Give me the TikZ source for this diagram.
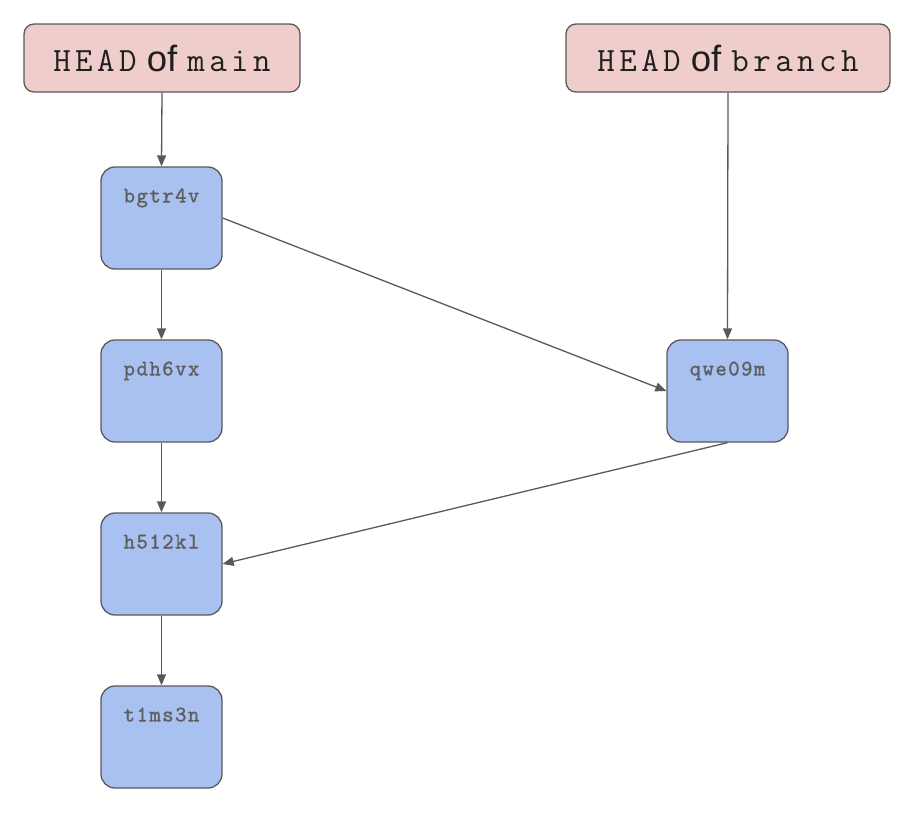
\documentclass[tikz,border=0pt]{standalone}
\usepackage{fontspec}
\setmainfont{Liberation Sans}
\newfontfamily\courA{Latin Modern Mono}[LetterSpace=13]
\newfontfamily\courB{Latin Modern Mono}[FakeBold=1.6,LetterSpace=7]
\usetikzlibrary{arrows.meta}
\definecolor{headfill}{HTML}{EFCDCB}
\definecolor{commitfill}{HTML}{A9C1F0}
\definecolor{edge}{HTML}{595959}
\definecolor{commitText}{HTML}{5F5F5F}
\newcommand{\courtxt}[1]{{\courA\fontsize{34}{40}\selectfont #1}}
\tikzset{
  headbox/.style={draw=edge, fill=headfill, line width=1.3pt, rounded corners=10pt,
    minimum height=68pt, inner sep=0pt, font=\fontsize{36.5}{40}\selectfont, text=black!88},
  commitbox/.style={draw=edge, fill=commitfill, line width=1.3pt, rounded corners=14pt,
    minimum width=121pt, minimum height=102pt, inner sep=0pt},
  committext/.style={anchor=base, inner sep=0pt, text=commitText,
    font=\courB\fontsize{22}{26}\selectfont},
  conn/.style={draw=edge, line width=1.3pt, -{Triangle[length=11pt,width=9pt]}},
}
\begin{document}
\begin{tikzpicture}[x=1pt,y=-1pt]
\useasboundingbox (0,0) rectangle (914,820);
\node[headbox, minimum width=276pt] (hmain) at (162,58) {\courtxt{HEAD} of \courtxt{main}};
\node[headbox, minimum width=324pt] (hbranch) at (728,58) {\courtxt{HEAD} of \courtxt{branch}};
\node[commitbox] (c1) at (161.5,218) {};
\node[commitbox] (c2) at (161.5,391) {};
\node[commitbox] (c3) at (161.5,564) {};
\node[commitbox] (c4) at (161.5,737) {};
\node[commitbox] (cb) at (727.5,391) {};
\node[committext] (c1t) at ([yshift=-36pt]c1.north) {bgtr4v};
\node[committext] (c2t) at ([yshift=-36pt]c2.north) {pdh6vx};
\node[committext] (c3t) at ([yshift=-36pt]c3.north) {h512kl};
\node[committext] (c4t) at ([yshift=-36pt]c4.north) {t1ms3n};
\node[committext] (cbt) at ([yshift=-36pt]cb.north) {qwe09m};
\draw[conn] (hmain.south) -- (c1.north);
\draw[conn] (c1.south) -- (c2.north);
\draw[conn] (c2.south) -- (c3.north);
\draw[conn] (c3.south) -- (c4.north);
\draw[conn] (hbranch.south) -- (cb.north);
\draw[conn] (c1.east) -- (cb.west);
\draw[conn] (cb.south) -- (c3.east);
\end{tikzpicture}
\end{document}
